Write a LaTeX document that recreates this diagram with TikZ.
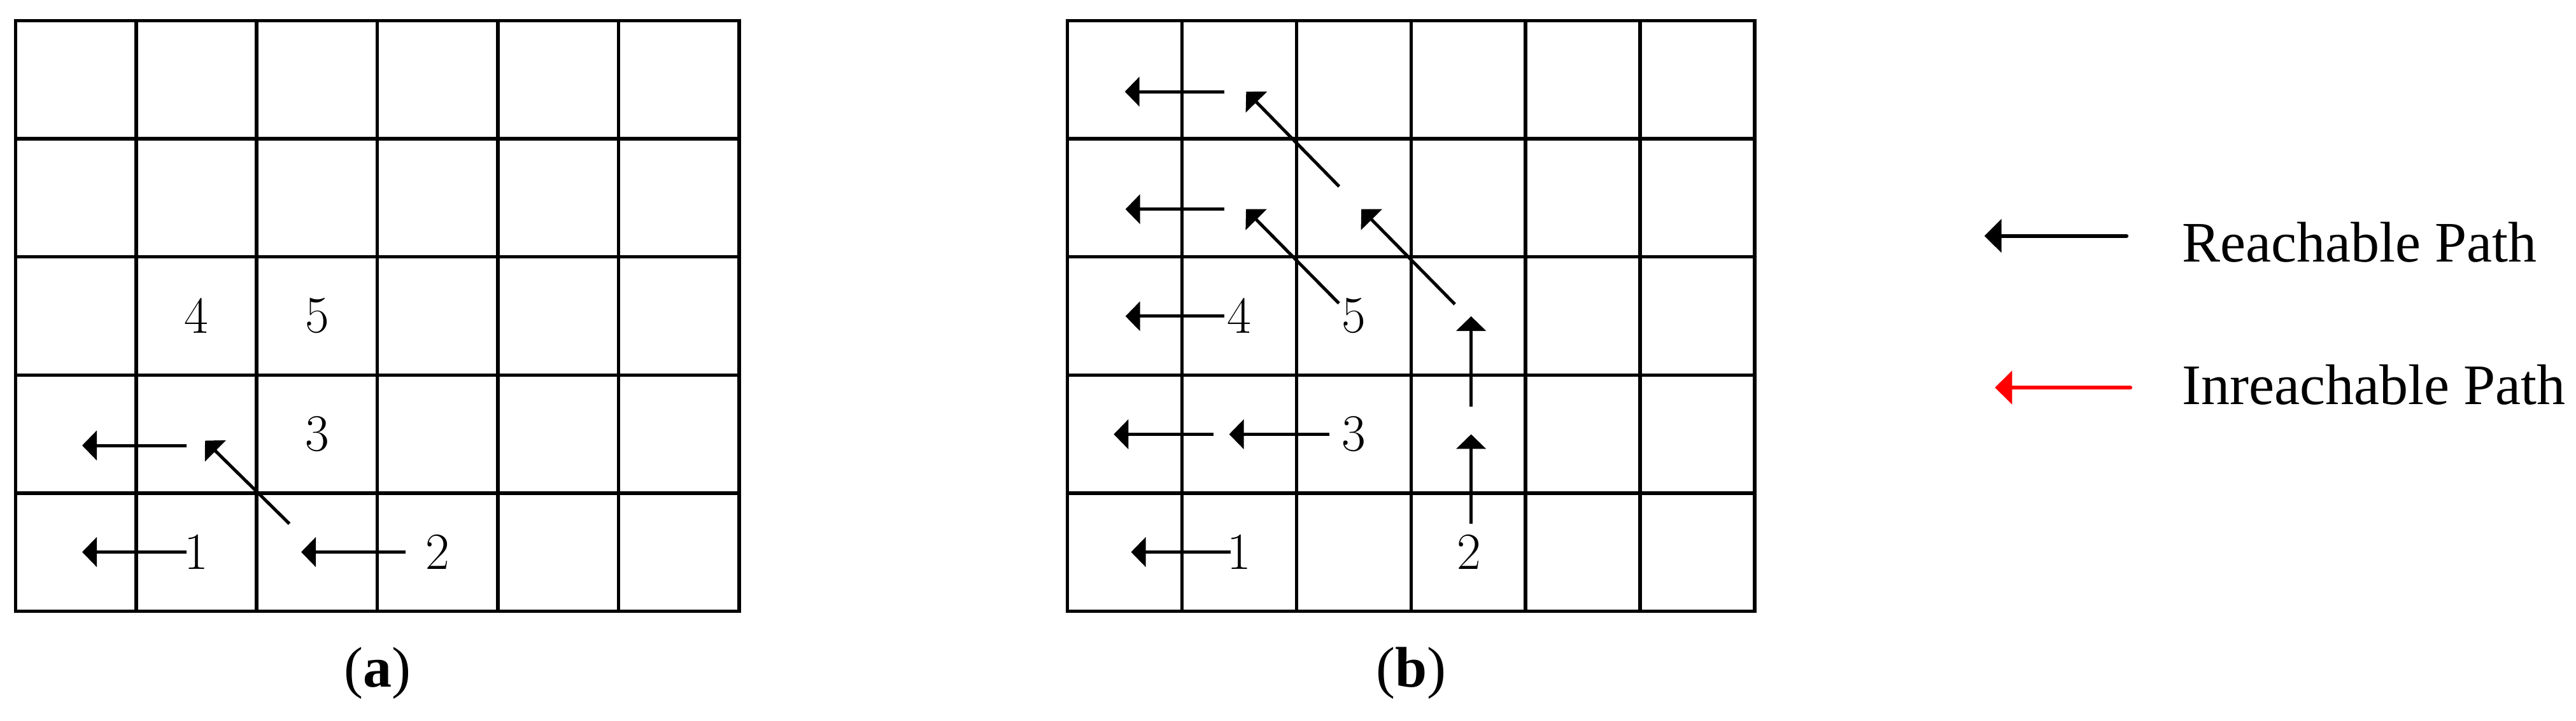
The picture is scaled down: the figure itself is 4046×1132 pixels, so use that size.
\documentclass[tikz,border=0pt]{standalone}
\usepackage{fontspec}
\newfontfamily\tnr{Liberation Serif}
\usetikzlibrary{arrows.meta}
\begin{document}
\begin{tikzpicture}[x=1pt,y=-1pt,
  gridline/.style={line width=5.5pt},
  arr/.style={line width=5pt,-{Triangle[length=23pt,width=46pt]}},
  legarr/.style={line width=6pt,line cap=round,-{Triangle[length=27pt,width=52pt]}},
  num/.style={inner sep=0pt,font=\fontsize{82}{98}\selectfont},
  legtext/.style={inner sep=0pt,anchor=base west,font=\tnr\fontsize{90}{108}\selectfont},
  captext/.style={inner sep=0pt,font=\tnr\fontsize{90}{108}\selectfont}]
\useasboundingbox (0,0) rectangle (4046,1132);

% ---------- grid (a) ----------
\draw[gridline] (24.3,32.7) rectangle (1161,960.3);
\foreach \x in {213.75,403.2,592.65,782.1,971.55}
  \draw[gridline] (\x,32.7) -- (\x,960.3);
\foreach \y in {218.2,403.7,589.3,774.8}
  \draw[gridline] (24.3,\y) -- (1161,\y);

\node[num] (a1) at (308.5,867.5) {1};
\node[num] (a2) at (687.4,867.5) {2};
\node[num] (a3) at (497.9,682.0) {3};
\node[num] (a4) at (308.5,496.5) {4};
\node[num] (a5) at (497.9,496.5) {5};

\coordinate (aAs) at (293,867.5);   \coordinate (aAt) at (129,867.5);
\coordinate (aBs) at (637,867.5);   \coordinate (aBt) at (473,867.5);
\coordinate (aCs) at (454.5,823);   \coordinate (aCt) at (322,692.5);
\coordinate (aDs) at (293,700);     \coordinate (aDt) at (129,700);
\draw[arr] (aAs) -- (aAt);
\draw[arr] (aBs) -- (aBt);
\draw[arr] (aCs) -- (aCt);
\draw[arr] (aDs) -- (aDt);

\node[captext] (capa) at (592.7,1058) {(\textbf{a})};

% ---------- grid (b) ----------
\draw[gridline] (1676.7,32.7) rectangle (2756,960.3);
\foreach \x in {1856.6,2036.5,2216.3,2396.2,2576.1}
  \draw[gridline] (\x,32.7) -- (\x,960.3);
\foreach \y in {218.2,403.7,589.3,774.8}
  \draw[gridline] (1676.7,\y) -- (2756,\y);

\node[num] (b1) at (1946.5,867.5) {1};
\node[num] (b2) at (2307,867.5) {2};
\node[num] (b3) at (2126.4,682.0) {3};
\node[num] (b4) at (1946.5,496.5) {4};
\node[num] (b5) at (2126.4,496.5) {5};

\coordinate (bAs) at (1933,867.5);   \coordinate (bAt) at (1776.5,867.5);
\coordinate (bBs) at (2310.6,823);   \coordinate (bBt) at (2310.6,682.4);
\coordinate (bCs) at (2310.6,639);   \coordinate (bCt) at (2310.6,497);
\coordinate (bDs) at (2088,682.4);   \coordinate (bDt) at (1930.6,682.4);
\coordinate (bEs) at (1905.6,682.4); \coordinate (bEt) at (1749.3,682.4);
\coordinate (bFs) at (1923.2,496.9); \coordinate (bFt) at (1767.7,496.9);
\coordinate (bGs) at (2285,478);     \coordinate (bGt) at (2138.2,328.7);
\coordinate (bHs) at (2103,476.7);   \coordinate (bHt) at (1957,328.7);
\coordinate (bIs) at (1923.2,328.7); \coordinate (bIt) at (1767.7,328.7);
\coordinate (bJs) at (2103.3,293);   \coordinate (bJt) at (1957.3,144);
\coordinate (bKs) at (1923.3,144);   \coordinate (bKt) at (1766.7,144);
\foreach \p in {A,B,C,D,E,F,G,H,I,J,K}
  \draw[arr] (b\p s) -- (b\p t);

\node[captext] (capb) at (2216.3,1058) {(\textbf{b})};

% ---------- legend ----------
\coordinate (l1s) at (3340,370.7); \coordinate (l1t) at (3116.7,370.7);
\coordinate (l2s) at (3346,609);   \coordinate (l2t) at (3133.3,609);
\draw[legarr] (l1s) -- (l1t);
\draw[legarr,red] (l2s) -- (l2t);
\node[legtext] (leg1) at (3427,411.7) {Reachable Path};
\node[legtext] (leg2) at (3427,635.7) {Inreachable Path};
\end{tikzpicture}
\end{document}
